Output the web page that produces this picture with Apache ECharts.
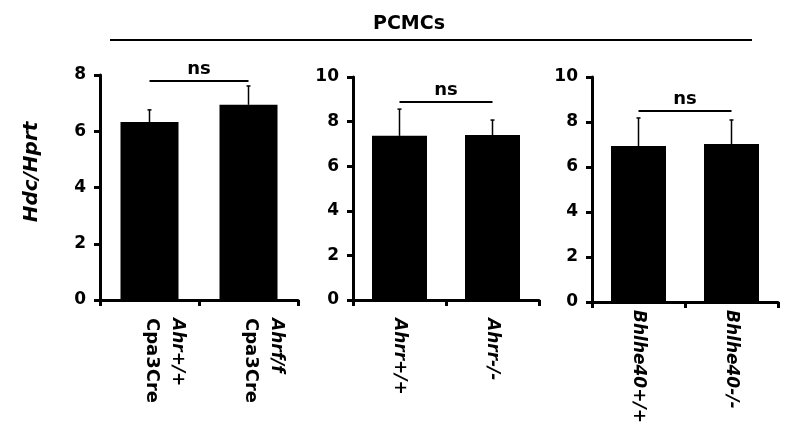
<!DOCTYPE html>
<html>
<head>
<meta charset="utf-8">
<script src="https://cdn.jsdelivr.net/npm/echarts@6/dist/echarts.min.js"></script>
<style>html,body{margin:0;padding:0;background:#fff}#c{width:800px;height:434px}</style>
</head>
<body>
<div id="c"></div>
<script>
// ---- data ----
const panel1Categories = ['{g|Ahr+/+}\n{n|Cpa3Cre}', '{g|Ahrf/f}\n{n|Cpa3Cre}'];
const panel1Means = [6.33, 6.94];
const panel1ErrTop = [6.76, 7.61];
const panel1Sig = 7.79;

const panel2Categories = ['Ahrr+/+', 'Ahrr-/-'];
const panel2Means = [7.36, 7.40];
const panel2ErrTop = [8.56, 8.07];
const panel2Sig = 8.88;

const panel3Categories = ['Bhlhe40+/+', 'Bhlhe40-/-'];
const panel3Means = [6.93, 7.02];
const panel3ErrTop = [8.18, 8.09];
const panel3Sig = 8.49;

const yMax = [8, 10, 10];
const sigLabel = 'ns';
const groupTitle = 'PCMCs';
const yTitle = 'Hdc/Hprt';

// ---- chart ----
const FONT = 'DejaVu Sans';
const chart = echarts.init(document.getElementById('c'), null, {renderer: 'canvas'});

const grids = [
  {left: 100, top: 75, width: 198, height: 225},
  {left: 353, top: 77, width: 186, height: 223},
  {left: 592, top: 77, width: 186, height: 225}
];
const cats = [panel1Categories, panel2Categories, panel3Categories];
const means = [panel1Means, panel2Means, panel3Means];
const errs = [panel1ErrTop, panel2ErrTop, panel3ErrTop];
const sigs = [panel1Sig, panel2Sig, panel3Sig];
const labelMargins = [18, 18, 8];

const xAxes = cats.map((c, i) => ({
  type: 'category', gridIndex: i, data: c,
  axisLine: {lineStyle: {color: '#000', width: 3}},
  axisTick: {show: true, length: 6, lineStyle: {color: '#000', width: 3}},
  axisLabel: {
    interval: 0, rotate: -90, margin: labelMargins[i], color: '#000',
    fontFamily: FONT, fontSize: 17, fontWeight: 'bold', fontStyle: 'italic',
    padding: i === 0 ? [0, 0, 30, 0] : 0,
    rich: {
      g: {fontFamily: FONT, fontSize: 17, fontWeight: 'bold', fontStyle: 'italic', color: '#000', lineHeight: 25},
      n: {fontFamily: FONT, fontSize: 18, fontWeight: 'bold', fontStyle: 'normal', color: '#000', lineHeight: 25}
    }
  }
}));

const yAxes = yMax.map((m, i) => ({
  type: 'value', gridIndex: i, min: 0, max: m, interval: 2,
  splitLine: {show: false},
  axisLine: {show: true, lineStyle: {color: '#000', width: 3}},
  axisTick: {show: true, length: 6, lineStyle: {color: '#000', width: 3}},
  axisLabel: {margin: 14, color: '#000', fontFamily: FONT, fontSize: 17, fontWeight: 'bold'}
}));

const series = [];
for (let i = 0; i < 3; i++) {
  series.push({
    type: 'bar', xAxisIndex: i, yAxisIndex: i, data: means[i],
    barWidth: i === 0 ? 58 : 55,
    itemStyle: {color: '#000'}, silent: true
  });
  series.push({
    type: 'custom', xAxisIndex: i, yAxisIndex: i, z: 1,
    data: means[i].map((v, k) => [k, v, errs[i][k]]),
    encode: {x: 0, y: [1, 2]},
    renderItem: function (params, api) {
      const b = api.coord([api.value(0), api.value(1)]);
      const t = api.coord([api.value(0), api.value(2)]);
      return {type: 'group', children: [
        {type: 'line', shape: {x1: b[0], y1: b[1], x2: t[0], y2: t[1]}, style: {stroke: '#000', lineWidth: 1.5}},
        {type: 'line', shape: {x1: t[0] - 2, y1: t[1], x2: t[0] + 2, y2: t[1]}, style: {stroke: '#000', lineWidth: 1.5}}
      ]};
    }
  });
  series.push({
    type: 'custom', xAxisIndex: i, yAxisIndex: i, z: 3,
    data: [[0, 1, sigs[i]]],
    encode: {x: [0, 1], y: 2},
    renderItem: function (params, api) {
      const a = api.coord([api.value(0), api.value(2)]);
      const b = api.coord([api.value(1), api.value(2)]);
      return {type: 'group', children: [
        {type: 'line', shape: {x1: a[0], y1: a[1], x2: b[0], y2: b[1]}, style: {stroke: '#000', lineWidth: 2}},
        {type: 'text', style: {text: sigLabel, x: (a[0] + b[0]) / 2, y: a[1] - 3, align: 'center', verticalAlign: 'bottom',
          fill: '#000', font: 'bold 18px "DejaVu Sans"'}}
      ]};
    }
  });
}

chart.setOption({
  animation: false,
  backgroundColor: '#fff',
  grid: grids,
  xAxis: xAxes,
  yAxis: yAxes,
  series: series,
  graphic: [
    {type: 'text', left: 409 - 36, top: 15, style: {text: groupTitle, fill: '#000', font: 'bold 19px "DejaVu Sans"'}},
    {type: 'line', shape: {x1: 110, y1: 40, x2: 752, y2: 40}, style: {stroke: '#000', lineWidth: 2}},
    {type: 'text', x: 32, y: 172, rotation: Math.PI / 2,
      style: {text: yTitle, align: 'center', verticalAlign: 'middle', fill: '#000', font: 'italic bold 20px "DejaVu Sans"'}}
  ]
});
</script>
</body>
</html>
